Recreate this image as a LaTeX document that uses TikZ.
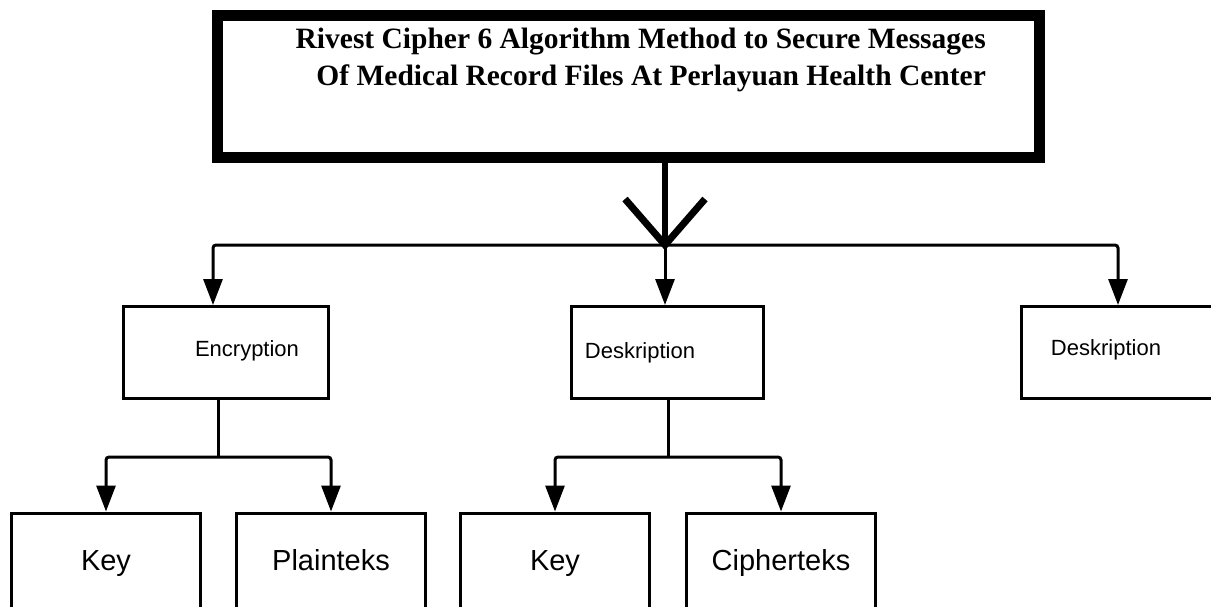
\documentclass[tikz,border=0pt]{standalone}
\usepackage{fontspec}
\setmainfont{Liberation Serif}
\setsansfont{Liberation Sans}
\usetikzlibrary{arrows.meta}
\tikzset{%
  tipA/.tip={Triangle[length=26pt,width=19pt]},
  headbox/.style={draw, line width=11pt, minimum width=822pt, minimum height=142pt, inner sep=0pt},
  partbox/.style={draw, line width=3pt, minimum width=#1, minimum height=92pt, inner sep=0pt},
  leafbox/.style={draw, line width=3pt, minimum width=189pt, minimum height=99pt, inner sep=0pt,
    font=\sffamily\fontsize{29}{32}\selectfont, text height=21pt, text depth=6pt},
  parttext/.style={anchor=base, inner sep=0pt, font=\sffamily\fontsize{22}{25}\selectfont},
  conn/.style={line width=3pt, rounded corners=3pt}
}

\begin{document}
\begin{tikzpicture}[x=1pt,y=-1pt]
\clip (0,0) rectangle (1211,606);

% title block
\node[headbox] (head) at (628.5,86.5) {};
\node[anchor=north east, inner sep=0pt, align=right,
      font=\bfseries\fontsize{29.5}{37}\selectfont] (title) at (986,28)
  {Rivest Cipher 6 Algorithm Method to Secure Messages\\
   Of Medical Record Files At Perlayuan Health Center};

% second level
\node[partbox=205pt] (enc) at (226,352.5) {};
\node[partbox=192pt] (desA) at (667.5,352.5) {};
\node[partbox=207pt] (desB) at (1125,352.5) {};
\node[parttext] (enctext) at (247,356) {Encryption};
\node[parttext] (desAtext) at (640,358) {Deskription};
\node[parttext] (desBtext) at (1106,355) {Deskription};

% third level
\node[leafbox] (keyA) at (106,562.5) {Key};
\node[leafbox] (plain) at (331,562.5) {Plainteks};
\node[leafbox] (keyB) at (555,562.5) {Key};
\node[leafbox] (cipher) at (781,562.5) {Cipherteks};

% main arrow
\coordinate (hub) at (665,245);
\coordinate (busL) at (213,245);
\coordinate (busR) at (1118,245);
\draw[line width=6pt] (head.south -| hub) -- (hub);
\draw[line width=7pt] ([shift={(-40,-46)}]hub) -- (hub) -- ([shift={(40,-46)}]hub);

% bus to second level
\draw[conn,-tipA] (hub) -| (busL |- enc.north);
\draw[conn,-tipA] (hub) -| (busR |- desB.north);
\draw[conn,-tipA] (hub) -- (hub |- desA.north);

% forks to third level
\coordinate (forkA) at (218,457);
\coordinate (forkB) at (668,457);
\draw[conn] (enc.south -| forkA) -- (forkA);
\draw[conn,-tipA] (forkA) -| (keyA.north);
\draw[conn,-tipA] (forkA) -| (plain.north);
\draw[conn] (desA.south -| forkB) -- (forkB);
\draw[conn,-tipA] (forkB) -| (keyB.north);
\draw[conn,-tipA] (forkB) -| (cipher.north);
\end{tikzpicture}
\end{document}
